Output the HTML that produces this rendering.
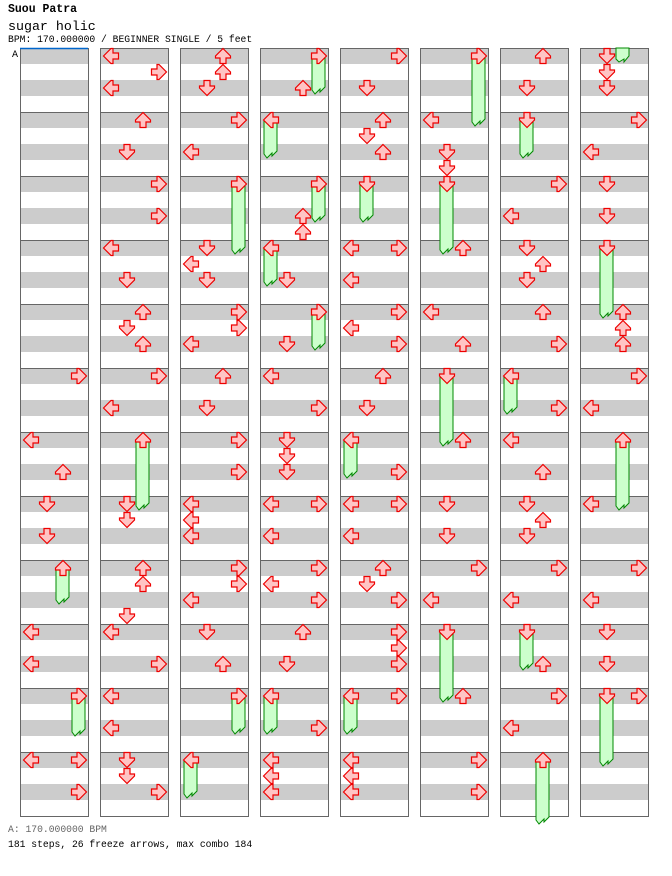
<!DOCTYPE html>
<html><head><meta charset="utf-8"><style>
body{margin:0;background:#fff;width:672px;height:876px;overflow:hidden;position:relative;font-family:"Liberation Mono",monospace;}
.t{position:absolute;left:8px;white-space:pre;color:#000;}
</style></head><body>
<div class="t" style="top:3px;font-size:11.5px;font-weight:bold">Suou Patra</div>
<div class="t" style="top:19px;font-size:13.3px">sugar holic</div>
<div class="t" style="top:34px;font-size:9.7px">BPM: 170.000000 / BEGINNER SINGLE / 5 feet</div>
<div class="t" style="top:824px;font-size:9.7px;color:#666">A: 170.000000 BPM</div>
<div class="t" style="top:839px;font-size:9.7px">181 steps, 26 freeze arrows, max combo 184</div>
<svg id="s" width="672" height="876" style="position:absolute;left:0;top:0"></svg>
<script>
var S=document.getElementById('s'),h='';
var cols=[20,100,180,260,340,420,500,580];
for(var c=0;c<8;c++)for(var r=0;r<12;r++){var x=cols[c],y=48+64*r;
h+='<rect x="'+x+'" y="'+y+'" width="68" height="64" fill="#fff"/>';
h+='<rect x="'+x+'" y="'+y+'" width="68" height="16" fill="#ccc"/><rect x="'+x+'" y="'+(y+32)+'" width="68" height="16" fill="#ccc"/>';}
for(var c=0;c<8;c++)for(var r=0;r<12;r++){h+='<rect x="'+(cols[c]+0.5)+'" y="'+(48.5+64*r)+'" width="68" height="64" fill="none" stroke="#666"/>';}
h+='<line x1="20" y1="48.5" x2="88" y2="48.5" stroke="#06c" stroke-width="1.5"/>';
h+='<text x="12" y="57" font-family="Liberation Mono" font-size="10">A</text>';
var L={l:0,d:1,u:2,r:3},rot={l:-90,d:180,u:0,r:90};
var notes=[
[0,'r',376],[0,'l',440],[0,'u',472],[0,'d',504],[0,'d',536],[0,'u',568,604],[0,'l',632],[0,'l',664],[0,'r',696,736],[0,'l',760],[0,'r',760],[0,'r',792],
[1,'l',56],[1,'r',72],[1,'l',88],[1,'u',120],[1,'d',152],[1,'r',184],[1,'r',216],[1,'l',248],[1,'d',280],[1,'u',312],[1,'d',328],[1,'u',344],[1,'r',376],[1,'l',408],[1,'u',440,510],[1,'d',504],[1,'d',520],[1,'u',568],[1,'u',584],[1,'d',616],[1,'l',632],[1,'r',664],[1,'l',696],[1,'l',728],[1,'d',760],[1,'d',776],[1,'r',792],
[2,'u',56],[2,'u',72],[2,'d',88],[2,'r',120],[2,'l',152],[2,'r',184,254],[2,'d',248],[2,'l',264],[2,'d',280],[2,'r',312],[2,'r',328],[2,'l',344],[2,'u',376],[2,'d',408],[2,'r',440],[2,'r',472],[2,'l',504],[2,'l',520],[2,'l',536],[2,'r',568],[2,'r',584],[2,'l',600],[2,'d',632],[2,'u',664],[2,'r',696,734],[2,'l',760,798],
[3,'r',56,94],[3,'u',88],[3,'l',120,158],[3,'r',184,222],[3,'u',216],[3,'u',232],[3,'l',248,286],[3,'d',280],[3,'r',312,350],[3,'d',344],[3,'l',376],[3,'r',408],[3,'d',440],[3,'d',456],[3,'d',472],[3,'l',504],[3,'r',504],[3,'l',536],[3,'r',568],[3,'l',584],[3,'r',600],[3,'u',632],[3,'d',664],[3,'l',696,734],[3,'r',728],[3,'l',760],[3,'l',776],[3,'l',792],
[4,'r',56],[4,'d',88],[4,'u',120],[4,'d',136],[4,'u',152],[4,'d',184,222],[4,'l',248],[4,'r',248],[4,'l',280],[4,'r',312],[4,'l',328],[4,'r',344],[4,'u',376],[4,'d',408],[4,'l',440,478],[4,'r',472],[4,'l',504],[4,'r',504],[4,'l',536],[4,'u',568],[4,'d',584],[4,'r',600],[4,'r',632],[4,'r',648],[4,'r',664],[4,'l',696,734],[4,'r',696],[4,'l',760],[4,'l',776],[4,'l',792],
[5,'r',56,126],[5,'l',120],[5,'d',152],[5,'d',168],[5,'d',184,254],[5,'u',248],[5,'l',312],[5,'u',344],[5,'d',376,446],[5,'u',440],[5,'d',504],[5,'d',536],[5,'r',568],[5,'l',600],[5,'d',632,702],[5,'u',696],[5,'r',760],[5,'r',792],
[6,'u',56],[6,'d',88],[6,'d',120,158],[6,'r',184],[6,'l',216],[6,'d',248],[6,'u',264],[6,'d',280],[6,'u',312],[6,'r',344],[6,'l',376,414],[6,'r',408],[6,'l',440],[6,'u',472],[6,'d',504],[6,'u',520],[6,'d',536],[6,'r',568],[6,'l',600],[6,'d',632,670],[6,'u',664],[6,'r',696],[6,'l',728],[6,'u',760,824],
[7,'d',56],[7,'d',72],[7,'d',88],[7,'r',120],[7,'l',152],[7,'d',184],[7,'d',216],[7,'d',248,318],[7,'u',312],[7,'u',328],[7,'u',344],[7,'r',376],[7,'l',408],[7,'u',440,510],[7,'l',504],[7,'r',568],[7,'l',600],[7,'d',632],[7,'d',664],[7,'d',696,766],[7,'r',696]];
function frz(x,y0,y1){var l=x+1,r=x+14;return '<polygon points="'+l+','+y0+' '+r+','+y0+' '+r+','+(y1-7)+' '+(l+8)+','+(y1-2)+' '+(l+8)+','+(y1-5)+' '+(l+3)+','+y1+' '+l+','+(y1-4)+'" fill="#cfc" stroke="#080" stroke-width="1"/>';}
h+='<polygon points="616,48 629,48 629,56 624,62 624,59 619,62 616,59" fill="#cfc" stroke="#080"/>';
notes.forEach(function(n){var x=cols[n[0]]+3+16*L[n[1]];if(n[3])h+=frz(x,n[2],n[3]);});
notes.forEach(function(n){var x=cols[n[0]]+3+16*L[n[1]],y=n[2]-8;
h+='<g transform="translate('+x+','+y+') rotate('+rot[n[1]]+',8,8)"><polygon points="8,0.5 15.5,8 15.5,10 11,10 11,15.5 5,15.5 5,10 0.5,10 0.5,8" fill="#ffc4c4" stroke="#e00" stroke-width="1.2"/></g>';});
S.innerHTML=h;
</script>
</body></html>
